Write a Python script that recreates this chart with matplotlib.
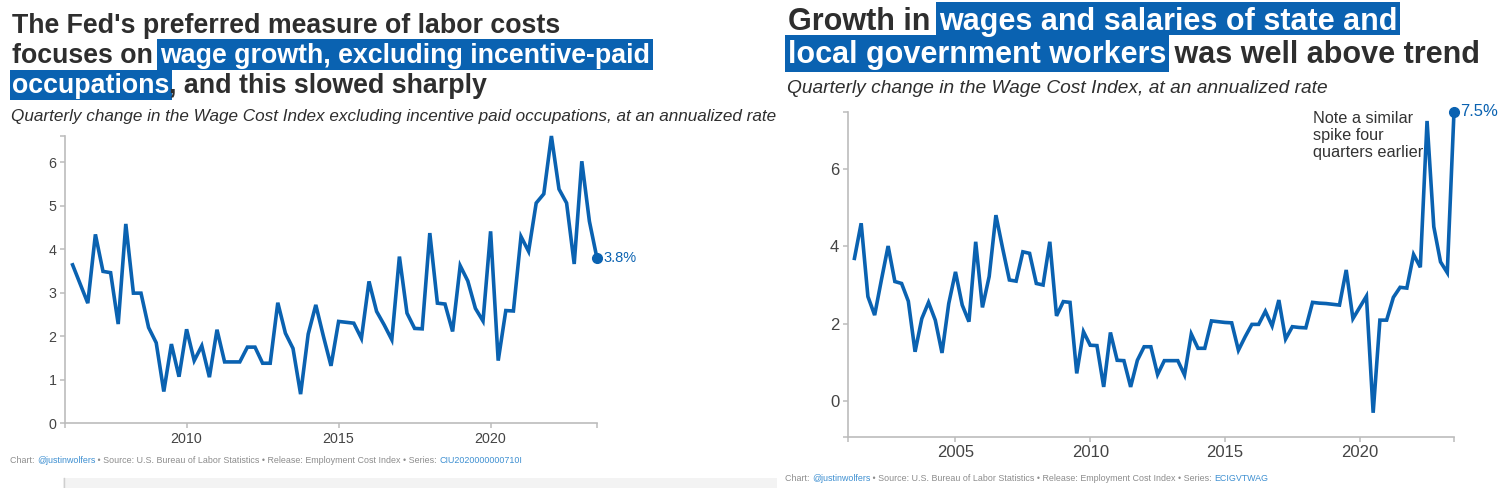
import matplotlib
matplotlib.use("Agg")
import matplotlib.pyplot as plt
import pandas as pd
from matplotlib.patches import Rectangle
from matplotlib.lines import Line2D

# ---------------- data ----------------
left_quarters = pd.period_range("2006Q2", "2023Q3", freq="Q")
left_values = [3.64, 3.2, 2.76, 4.34, 3.49, 3.46, 2.28, 4.58, 2.99, 2.99,
               2.2, 1.85, 0.73, 1.82, 1.07, 2.16, 1.44, 1.78, 1.06, 2.15,
               1.41, 1.41, 1.41, 1.75, 1.75, 1.38, 1.38, 2.77, 2.07, 1.72,
               0.67, 2.05, 2.72, 2.0, 1.32, 2.34, 2.32, 2.3, 1.95, 3.26,
               2.57, 2.26, 1.92, 3.83, 2.53, 2.18, 2.17, 4.37, 2.76, 2.74,
               2.11, 3.62, 3.27, 2.64, 2.35, 4.41, 1.44, 2.59, 2.58, 4.29,
               3.95, 5.06, 5.27, 6.6, 5.38, 5.06, 3.66, 6.02, 4.64, 3.79]

right_quarters = pd.period_range("2001Q2", "2023Q3", freq="Q")
right_values = [3.69, 4.6, 2.7, 2.22, 3.13, 4.01, 3.09, 3.04, 2.58, 1.27,
                2.13, 2.55, 2.09, 1.24, 2.52, 3.34, 2.48, 2.05, 4.12, 2.42,
                3.22, 4.81, 3.95, 3.13, 3.1, 3.86, 3.82, 3.04, 3.0, 4.12,
                2.2, 2.57, 2.55, 0.71, 1.79, 1.44, 1.43, 0.36, 1.77, 1.05,
                1.04, 0.36, 1.05, 1.4, 1.4, 0.68, 1.04, 1.04, 1.04, 0.67,
                1.73, 1.36, 1.36, 2.07, 2.05, 2.03, 2.02, 1.31, 1.66, 1.98,
                1.98, 2.32, 1.94, 2.61, 1.6, 1.92, 1.9, 1.89, 2.55, 2.53,
                2.52, 2.5, 2.48, 3.39, 2.13, 2.42, 2.71, -0.31, 2.09, 2.09,
                2.68, 2.94, 2.92, 3.79, 3.46, 7.25, 4.51, 3.6, 3.32, 7.49]

left_xticks = [2010, 2015, 2020]
left_yticks = [0, 1, 2, 3, 4, 5, 6]
right_xticks = [2005, 2010, 2015, 2020]
right_yticks = [0, 2, 4, 6]

left_title = [
    [("The Fed's preferred measure of labor costs", False)],
    [("focuses on ", False), ("wage growth, excluding incentive-paid", True)],
    [("occupations", True), (", and this slowed sharply", False)],
]
left_subtitle = "Quarterly change in the Wage Cost Index excluding incentive paid occupations, at an annualized rate"
right_title = [
    [("Growth in ", False), ("wages and salaries of state and", True)],
    [("local government workers", True), (" was well above trend", False)],
]
right_subtitle = "Quarterly change in the Wage Cost Index, at an annualized rate"
right_note = "Note a similar\nspike four\nquarters earlier"
left_footer = [("Chart: ", False), ("@justinwolfers", True),
               (" \u2022 Source: U.S. Bureau of Labor Statistics \u2022 Release: Employment Cost Index \u2022 Series: ", False),
               ("CIU2020000000710I", True)]
right_footer = [("Chart: ", False), ("@justinwolfers", True),
                (" \u2022 Source: U.S. Bureau of Labor Statistics \u2022 Release: Employment Cost Index \u2022 Series: ", False),
                ("ECIGVTWAG", True)]

# ---------------- style ----------------
W, H = 1503, 488
BLUE = "#0a62b1"
DARK = "#2e2e2e"
AXIS = "#bcbcbc"
TICKTXT = "#444444"
FOOT = "#8c8c8c"
LINK = "#3d8fd1"
FONT = ["Liberation Sans", "DejaVu Sans"]

plt.rcParams["font.family"] = FONT

fig = plt.figure(figsize=(W / 100, H / 100), dpi=100)
fig.patch.set_facecolor("white")
renderer = fig.canvas.get_renderer()


def fx(x):
    return x / W


def fy(y):
    return 1 - y / H


def width_px(s, **kw):
    t = fig.text(0, 0, s, **kw)
    w = t.get_window_extent(renderer).width
    t.remove()
    return w


def fit_size(s, target, **kw):
    base = 20.0
    return base * target / width_px(s, fontsize=base, **kw)


def prefix_w(prefix, **kw):
    if not prefix:
        return 0.0
    return width_px(prefix + "X", **kw) - width_px("X", **kw)


def rich_line(x, y, segments, size, hl_top, hl_bot, padl=3, padr=3):
    kw = dict(fontsize=size, fontweight="bold", family=FONT)
    full = "".join(s for s, _ in segments)
    pos = 0
    for s, hl in segments:
        x0 = x + prefix_w(full[:pos], **kw)
        if hl:
            w = width_px(s, **kw)
            fig.add_artist(Rectangle((fx(x0 - padl), fy(hl_bot)), (w + padl + padr) / W,
                                     (hl_bot - hl_top) / H, transform=fig.transFigure,
                                     facecolor=BLUE, edgecolor="none", zorder=3))
            fig.text(fx(x0), fy(y), s, color="white", va="baseline", ha="left", zorder=4, **kw)
        else:
            fig.text(fx(x0), fy(y), s, color=DARK, va="baseline", ha="left", zorder=4, **kw)
        pos += len(s)


def footer(x, y, segments, size):
    full = "".join(s for s, _ in segments)
    kw = dict(fontsize=size, family=FONT)
    pos = 0
    for s, link in segments:
        x0 = x + prefix_w(full[:pos], **kw)
        fig.text(fx(x0), fy(y), s, color=LINK if link else FOOT, va="baseline", ha="left", **kw)
        pos += len(s)


def dec_year(periods):
    return [p.year + (p.quarter - 1) / 4 for p in periods]


def style_axes(ax, xlim, ylim, xticks, yticks, labsize):
    ax.set_xlim(*xlim)
    ax.set_ylim(*ylim)
    for s in ["top", "right"]:
        ax.spines[s].set_visible(False)
    for s in ["left", "bottom"]:
        ax.spines[s].set_color(AXIS)
        ax.spines[s].set_linewidth(1.2)
    ax.set_xticks(xticks)
    ax.set_xticklabels([str(t) for t in xticks])
    ax.set_yticks(yticks)
    ax.set_yticklabels([str(t) for t in yticks])
    ax.set_xticks([xlim[0], xlim[1]], minor=True)
    ax.set_yticks([ylim[0], ylim[1]], minor=True)
    ax.tick_params(which="both", color=AXIS, width=1.1, length=3.5,
                   labelsize=labsize, labelcolor=TICKTXT, pad=2.5)
    ax.patch.set_alpha(0)
    ax.grid(False)


# ---------------- left chart ----------------
axL = fig.add_axes([65 / W, 1 - 423.3 / H, 532 / W, 287.3 / H])
lx = dec_year(left_quarters)
axL.plot(lx, left_values, color=BLUE, lw=2.6, solid_joinstyle="miter", clip_on=False)
axL.plot(lx[-1], left_values[-1], "o", color=BLUE, ms=7, clip_on=False)
axL.annotate(f"{left_values[-1]:.1f}%", (lx[-1], left_values[-1]), xytext=(6, 0),
             textcoords="offset pixels", va="center", ha="left", color=BLUE, fontsize=10.5)
style_axes(axL, (2006.0, 2023.5), (0, 6.6), left_xticks, left_yticks, 10.3)

# ---------------- right chart ----------------
axR = fig.add_axes([847.7 / W, 1 - 436.7 / H, 606.3 / W, 325 / H])
rx = dec_year(right_quarters)
axR.plot(rx, right_values, color=BLUE, lw=2.6, solid_joinstyle="miter", clip_on=False)
axR.plot(rx[-1], right_values[-1], "o", color=BLUE, ms=7, clip_on=False)
axR.annotate(f"{right_values[-1]:.1f}%", (rx[-1], right_values[-1]), xytext=(6, 0),
             textcoords="offset pixels", va="center", ha="left", color=BLUE, fontsize=12)
style_axes(axR, (2001.0, 2023.5), (-0.93, 7.49), right_xticks, right_yticks, 12)

note_size = fit_size("quarters earlier", 109, family=FONT)
fig.text(fx(1313), fy(111), right_note, fontsize=note_size, color="#333333",
         va="top", ha="left", linespacing=1.18)

# ---------------- titles ----------------
lt_size = fit_size("".join(s for s, _ in left_title[0]), 550, fontweight="bold", family=FONT)
rich_line(12, 33.3, left_title[0], lt_size, 8, 39)
rich_line(12, 63.3, left_title[1], lt_size, 39, 70)
rich_line(12, 93.3, left_title[2], lt_size, 70, 100, padl=2)

rt_size = fit_size("".join(s for s, _ in right_title[1]), 692, fontweight="bold", family=FONT)
rich_line(788, 30, right_title[0], rt_size, 2, 35)
rich_line(788, 63.3, right_title[1], rt_size, 35, 72, padl=3)

ls_size = fit_size(left_subtitle, 762, style="italic", family=FONT)
fig.text(fx(11), fy(120.5), left_subtitle, fontsize=ls_size, style="italic",
         color=DARK, va="baseline", ha="left")
rs_size = fit_size(right_subtitle, 540, style="italic", family=FONT)
fig.text(fx(787), fy(93.3), right_subtitle, fontsize=rs_size, style="italic",
         color=DARK, va="baseline", ha="left")

# ---------------- footers ----------------
footer(10, 463, left_footer, 6.4)
footer(785, 481, right_footer, 6.4)

# light grey strip at the bottom of the left screenshot
fig.add_artist(Rectangle((fx(63), 0), (777 - 63) / W, 10 / H, transform=fig.transFigure,
                         facecolor="#f3f3f3", edgecolor="none", zorder=0))
fig.add_artist(Line2D([fx(63.5), fx(63.5)], [0, 10 / H], transform=fig.transFigure,
                      color="#cfcfcf", lw=1))

fig.savefig("out.png", dpi=100, facecolor="white")
